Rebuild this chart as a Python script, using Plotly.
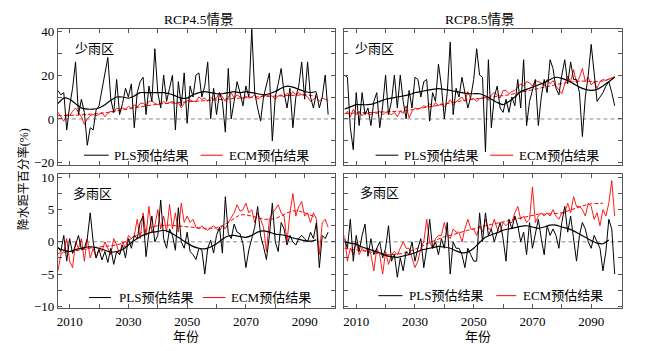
import plotly.graph_objects as go

# ---------------- data ----------------
YEARS = list(range(2006, 2099))

# RCP4.5 少雨区
TL_PLS = [13, 11, 12, -5, 6, 14, 26, 2, 9, 3,
          -12, -4, -5, 4, 6, 14, 20, 28, 9, 3,
          18, 2, 7, 14, 10, 16, -4, 12, 17, 19,
          2, 15, 8, 32, 12, 5, 20, 8, 14, 20,
          -5, 17, 6, 21, -2, 15, 10, 20, 21, 10,
          15, 26, 0, 14, 2, 12, 8, -6, 23, 0,
          8, 17, 12, 6, 15, 10, 41, 12, 5, -1,
          10, 15, 21, -10, 10, 16, 23, 12, 5, 14,
          -4, 10, 15, 26, 9, 26, 10, 5, 12, 5,
          10, 20, 2]
TL_ECM = [3, 1, -1, 2, 1.5, 3.5, 5, 3, 1, -2.5,
          0, 1.5, 2, 1.5, 2, 3, 1, 2.5, 3.5, 3,
          5, 4.4, 5, 4.5, 5.8, 4.8, 6.5, 5.5, 7, 7.3,
          6, 8, 8.3, 7, 6.5, 7.2, 8, 7, 7.5, 8,
          7, 7.5, 5, 7.3, 8.3, 8.7, 8, 8, 10, 9,
          9.5, 8, 9.8, 9, 9.5, 12, 10, 8, 10, 12,
          9.5, 11, 10, 9.3, 10.5, 9.5, 10, 11, 9, 10,
          11, 10.5, 11, 10.3, 9, 10.5, 11, 10, 11.7, 10.5,
          12.5, 11, 12, 11, 11, 10, 8, 9, 10, 8,
          9.5, 9, 8.5]
TL_SM_YEARS = list(range(2006, 2095, 2))
TL_PLS_SM = [7, 9.5, 9, 7, 5, 4.5, 4.5, 5, 6.5, 8.5,
             10, 10, 9.5, 10.5, 12, 12, 12, 12, 12, 11.5,
             10.5, 9.5, 9.5, 11, 12, 12.5, 12, 11.5, 11.5, 12,
             12.5, 12, 12.5, 12, 11.5, 11, 11.5, 12.5, 14, 15,
             14.5, 13.5, 12.5, 12, 12.5]
TL_ECM_SM = [1.5, 1.5, 1.5, 1.7, 1.9, 2.0, 2.2, 2.5, 2.8, 3.2,
             3.5, 4.0, 4.6, 5.0, 5.5, 6.0, 6.5, 6.8, 7.0, 7.2,
             7.4, 7.6, 7.8, 8.0, 8.2, 8.4, 8.7, 9.0, 9.2, 9.4,
             9.6, 9.7, 9.8, 10.0, 10.1, 10.2, 10.3, 10.4, 10.6, 10.8,
             11.0, 11.1, 11.0, 10.7, 10.3]

# RCP8.5 少雨区
TR_PLS = [20, 19, -4, -14, 12, -3, 12, 2, 5, -3,
          8, 12, -4, 6, 20, 2, 8, 20, 5, 20,
          8, 0, 13, 5, 19, 18, 10, 17, 18, -1,
          12, 8, 25, 15, 0, 12, 35, 2, 14, 10,
          19, 12, 5, 10, 18, 32, 20, 19, -15, 27,
          -4, 10, 15, 5, 3, 9, 3, 10, 6, 18,
          5, 27, -3, 8, 13, 18, -3, 10, 18, 12,
          27, 23, 14, 11, 20, 27, 16, 26, 18, 18,
          12, -8, 10, 20, 34, 20, 8, 10, 12, 15,
          17, 12, 6]
TR_ECM = [2, 3.5, 1, 4.4, 2, 3.5, 1.5, 3, 2.5, 2,
          3, 2.5, 3.5, 2, 3, 2.5, 2, 3, 1, 3.5,
          2.5, 6, 0.5, 3.5, 5, 4.5, 5, 6, 5.5, 7,
          5.5, 7.5, 6, 7, 5.5, 7, 8.8, 6.5, 8, 9,
          10, 8, 12.5, 9, 9.3, 8, 9.2, 9.5, 10, 8.5,
          11, 12, 11, 9.5, 13, 13, 11.5, 12.5, 13, 14.5,
          16, 15, 17, 16.5, 15, 17.5, 17, 16.5, 15, 18,
          16, 17.5, 15, 13, 11.5, 16, 19.5, 17, 22.5, 16.5,
          19, 23, 17, 19, 15.5, 17, 14, 17, 18, 17.5,
          18, 18.5, 19.3]
TR_SM_YEARS = list(range(2006, 2099, 2))
TR_PLS_SM = [4.5, 5.5, 6.5, 6.5, 6.5, 7, 8, 9, 9.5, 10,
             10.5, 11, 12, 12.5, 13, 13.5, 13.8, 13.5, 13, 12.5,
             12, 11.5, 11.5, 11.5, 10.5, 9, 7.5, 6.5, 8, 10,
             12.5, 13.5, 14.5, 15.5, 16.5, 18, 19, 18.5, 17.5, 16,
             14.5, 13.5, 13, 13.5, 15, 17, 19]
TR_ECM_SM = [2.5, 2.6, 2.7, 2.8, 2.9, 3, 3, 3, 3.1, 3.3,
             3.6, 4, 4.4, 4.8, 5.2, 5.6, 6.2, 6.8, 7.4, 7.9,
             8.3, 8.7, 9, 9.3, 9.5, 9.8, 10.2, 10.6, 11, 11.6,
             12.2, 12.8, 13.4, 14, 14.6, 15.2, 15.8, 16.2, 16.6, 17,
             17.3, 17.2, 17, 17, 17.3, 18, 19]

# RCP4.5 多雨区
BL_PLS = [-0.8, -1.5, 1, -3, 0.5, -1.8, -0.5, 1, -1.2, -1,
          0.5, 4.5, 0, -2.5, -1.2, -2.8, -1.5, -3.2, -1, -3.5,
          -1.5, -2, -0.5, -2.5, 0.5, -1, 1, 0.5, 3, 4,
          -2.3, 1.5, 4, 0, 1, 6.5, 0.5, -1, 2, 1,
          -1.3, 5.3, 0, -1, 1.5, -1.5, -2, -2.75, -1, -1.25,
          -5, -1, 0.25, -1.75, 1, 2.25, -1.75, 7, 1.25, 0.5,
          2.75, 1.5, 1.25, -0.25, -4, -1.25, 0.5, 2.25, 5.5, 1,
          -0.75, -2.75, 1, 6, 0, -1.5, 3, 2, -0.5, 1,
          0, -0.5, 0.5, 1, 0.5, 0, 1.5, 0.5, 3, -4,
          1, 0.5, 1.5]
BL_ECM = [-4.5, -2, -1.5, 0.5, -3, -4, 0, -1, 0.5, -3,
          0.5, -2.5, -1, -2.5, -1, -1.5, 0, -1, -2, 0.5,
          -0.5, -2, 0, -1, 1, 0.5, 1, 3.5, 0.5, 4.5,
          1, 5.5, 1.5, 2.5, 5, 2, 4, 1.5, 5.8, 2,
          4.5, 1.5, 6, 3, 4, 3, 3.5, 2.25, 2, 2.5,
          2, 1.8, 2.2, 2.5, 2, 1.7, 2.5, 2, 3, 3.75,
          4.5, 5.75, 4.75, 5, 6, 4.5, 5, 3, 4.5, 3.5,
          2.25, -1.5, 3.5, 4.5, 5, 5.75, 4.5, 4, 0, 4.5,
          7.5, 4, 5.5, 6.25, 4, 4.5, 3, 4.5, 3.5, -2,
          3, 3.5, 2.25]
BL_SM_YEARS = list(range(2006, 2095, 2))
BL_PLS_SM = [-1, -1.3, -1.5, -1.2, -1, -0.8, -0.8, -1, -1.3, -1.6,
             -1.5, -1.2, -0.5, 0.2, 0.8, 1.2, 1.5, 1.6, 1.8, 1.5,
             1.0, 0.4, -0.2, -0.7, -1.0, -1.1, -0.8, -0.3, 0.4, 0.9,
             1.0, 0.8, 0.7, 1.0, 1.5, 1.7, 1.5, 1.2, 1.1, 0.9,
             0.6, 0.4, 0.2, 0.1, 0.3]
BL_ECM_SM = [-1.8, -1.6, -1.5, -1.4, -1.2, -1.0, -0.9, -0.8, -0.7, -0.6,
             -0.5, -0.2, 0.2, 0.8, 1.3, 1.8, 2.3, 2.5, 2.6, 2.6,
             2.5, 2.4, 2.3, 2.2, 2.1, 2.1, 2.1, 2.2, 2.5, 3.0,
             3.6, 4.2, 4.2, 4.0, 3.8, 3.5, 3.5, 3.6, 4.0, 4.5,
             4.8, 4.8, 4.5, 4.2, 3.8]

# RCP8.5 多雨区
BR_PLS = [0.5, -1, 3.5, -3, 1, -1.5, 1, 2.75, -2.25, 0.5,
          -2, -1, 0, -2.5, -1, 2.5, -3, -2, -5.5, -2.5,
          -4.5, -1.5, -2, 0, -3, -1, 0.5, -4, -1, 3.5,
          -1, 0, -2, 0.5, -1, 3, -5, 0, -1, -1,
          -2, -4, -1, -2, -3, -3, 4.5, 0, 4.5, 1,
          2, 0, 1.5, 3, 0.5, -3, 3.5, 2, 4, 2.5,
          0, 1.5, -2, 3, -1, 1.5, 3.5, 0.5, -2, 2.5,
          1, 2, 1, -1, 3, 5.5, 1.5, 4, 0, -3,
          1, 3, 2, 0, -1, 1, 0, -1, -4.5, -1.5,
          3.5, 2, -5]
BR_ECM = [1, -3, -1, -2, 0, -2, -1, -1.5, -1, -2,
          -4.5, -1, -2, -5, -1.5, -3.5, -2, -1.5, -2, -1,
          0, -1, -1, -2.5, -4, -3, -1, 0, 3.5, 0,
          -1, 0.5, 1, 1, 3, 1, 0.5, 2, 1.5, 1.5,
          0, 2, 3.5, 2, 2, 1, 2.5, 1.5, 3.5, 2,
          2, 3.5, 2, 1.5, 3, 2.5, 3, 3, 4.5, 5.5,
          3.5, 4, 3, 3.5, 8.5, 3, 4, 4.5, 4, 4.5,
          4, 5, 4, 3.5, 4.5, 4.5, 6, 4.5, 7, 5.5,
          5.5, 5, 4, 6, 5.5, 3.5, 4.5, 2.5, 5, 4,
          6, 9.5, 4]
BR_PLS_SM_YEARS = list(range(2006, 2097, 2))
BR_PLS_SM = [0, -0.2, -0.4, -0.8, -1.1, -1.4, -1.7, -2.1, -2.3, -2.4,
             -2.2, -2.0, -1.7, -1.3, -1.1, -0.9, -0.7, -0.8, -1.0, -1.4,
             -1.7, -1.6, -1.0, -0.1, 0.7, 1.1, 1.4, 1.8, 2.0, 2.2,
             2.4, 2.5, 2.3, 2.1, 2.3, 2.6, 2.6, 2.3, 2.1, 1.7,
             1.2, 0.7, 0.2, -0.2, -0.3, 0.3]
BR_ECM_SM_YEARS = list(range(2006, 2095, 2))
BR_ECM_SM = [-1, -1.1, -1.2, -1.3, -1.5, -1.7, -1.9, -2.0, -2.0, -1.9,
             -1.8, -1.5, -1.2, -0.8, -0.3, 0.1, 0.5, 0.8, 1.0, 1.3,
             1.5, 1.8, 2.0, 2.3, 2.5, 2.7, 2.9, 3.1, 3.3, 3.6,
             3.8, 4.0, 4.2, 4.3, 4.3, 4.3, 4.4, 4.5, 4.8, 5.1,
             5.5, 5.7, 5.9, 6.0, 6.0]

TITLES = ["RCP4.5情景", "RCP8.5情景"]
REGIONS = ["少雨区", "多雨区"]
LEGEND_NAMES = ["PLS预估结果", "ECM预估结果"]
X_TICKS = list(range(2010, 2100, 10))
Y_TICKS_TOP = list(range(-20, 41, 10))
Y_TICKS_BOT = [-10, -7.5, -5, -2.5, 0, 2.5, 5, 7.5, 10]

# ---------------- figure ----------------
W, H = 647, 351
FONT = "'Liberation Serif', 'Times New Roman', 'Noto Sans CJK SC', serif"
AX = "#555555"
RED = "#ff0000"

fig = go.Figure()

panels = [
    ("", TL_PLS, TL_ECM, TL_SM_YEARS, TL_PLS_SM, TL_SM_YEARS, TL_ECM_SM),
    ("2", TR_PLS, TR_ECM, TR_SM_YEARS, TR_PLS_SM, TR_SM_YEARS, TR_ECM_SM),
    ("3", BL_PLS, BL_ECM, BL_SM_YEARS, BL_PLS_SM, BL_SM_YEARS, BL_ECM_SM),
    ("4", BR_PLS, BR_ECM, BR_PLS_SM_YEARS, BR_PLS_SM, BR_ECM_SM_YEARS, BR_ECM_SM),
]

for sfx, pls, ecm, spx, spy, sex, sey in panels:
    xa, ya = "x" + sfx, "y" + sfx
    fig.add_trace(go.Scatter(x=YEARS, y=ecm, mode="lines", xaxis=xa, yaxis=ya,
                             line=dict(color=RED, width=0.9), showlegend=False))
    fig.add_trace(go.Scatter(x=sex, y=sey, mode="lines", xaxis=xa, yaxis=ya,
                             line=dict(color=RED, width=1, dash="4px,2px"), showlegend=False))
    fig.add_trace(go.Scatter(x=YEARS, y=pls, mode="lines", xaxis=xa, yaxis=ya,
                             line=dict(color="black", width=1), showlegend=False))
    fig.add_trace(go.Scatter(x=spx, y=spy, mode="lines", xaxis=xa, yaxis=ya,
                             line=dict(color="black", width=1.2, shape="spline", smoothing=0.6),
                             showlegend=False))

XD_L = [57 / W, 335 / W]
XD_R = [344 / W, 622 / W]
YD_T = [(H - 165) / H, (H - 25) / H]
YD_B = [(H - 313) / H, (H - 174) / H]

tickfont = dict(family=FONT, size=13, color="black")


def xaxis(dom, anchor, labels):
    return dict(domain=dom, anchor=anchor, range=[2006, 2100.5], tickmode="array",
                tickvals=X_TICKS,
                ticktext=[str(v) if (labels and v % 20 == 10) else "" for v in X_TICKS],
                ticks="inside", ticklen=4, tickwidth=1, tickcolor=AX,
                showline=True, linecolor=AX, linewidth=1, mirror="ticks",
                showgrid=False, zeroline=False, tickfont=tickfont, ticklabelstandoff=1)


def fmt(v):
    s = ("%g" % abs(v))
    return ("\u2212" + s) if v < 0 else s


def yaxis(dom, anchor, rng, vals, labvals, labels):
    return dict(domain=dom, anchor=anchor, range=rng, tickmode="array",
                tickvals=vals,
                ticktext=[fmt(v) if (labels and v in labvals) else "" for v in vals],
                ticks="inside", ticklen=4, tickwidth=1, tickcolor=AX,
                showline=True, linecolor=AX, linewidth=1, mirror="ticks",
                showgrid=False, zeroline=False, tickfont=tickfont)


fig.update_layout(
    width=W, height=H, margin=dict(l=0, r=0, t=0, b=0),
    paper_bgcolor="white", plot_bgcolor="white", showlegend=False,
    xaxis=xaxis(XD_L, "y", False),
    xaxis2=xaxis(XD_R, "y2", False),
    xaxis3=xaxis(XD_L, "y3", True),
    xaxis4=xaxis(XD_R, "y4", True),
    yaxis=yaxis(YD_T, "x", [-20.9, 40.9], Y_TICKS_TOP, [-20, 0, 20, 40], True),
    yaxis2=yaxis(YD_T, "x2", [-20.9, 40.9], Y_TICKS_TOP, [-20, 0, 20, 40], False),
    yaxis3=yaxis(YD_B, "x3", [-10.3, 10.6], Y_TICKS_BOT, [-10, -5, 0, 5, 10], True),
    yaxis4=yaxis(YD_B, "x4", [-10.3, 10.6], Y_TICKS_BOT, [-10, -5, 0, 5, 10], False),
)

shapes = []
annotations = []

for sfx in ["", "2", "3", "4"]:
    shapes.append(dict(type="line", xref="x%s domain" % sfx, yref="y" + sfx,
                       x0=0, x1=1, y0=0, y1=0,
                       line=dict(color="#888888", width=1, dash="4px,3px"), layer="below"))

legends = [
    ("", 0.071, 0.094, 0.183, 0.196, 0.514, 0.594, 0.610),
    ("2", 0.071, 0.112, 0.194, 0.207, 0.525, 0.608, 0.620),
    ("3", 0.079, 0.112, 0.191, 0.212, 0.522, 0.604, 0.618),
    ("4", 0.093, 0.122, 0.209, 0.226, 0.547, 0.619, 0.636),
]
for sfx, yy, b0, b1, bt, r0, r1, rt in legends:
    xr, yr = "x%s domain" % sfx, "y%s domain" % sfx
    shapes.append(dict(type="line", xref=xr, yref=yr, x0=b0, x1=b1, y0=yy, y1=yy,
                       line=dict(color="black", width=1)))
    shapes.append(dict(type="line", xref=xr, yref=yr, x0=r0, x1=r1, y0=yy, y1=yy,
                       line=dict(color=RED, width=1)))
    annotations.append(dict(xref=xr, yref=yr, x=bt, y=yy, text=LEGEND_NAMES[0],
                            showarrow=False, xanchor="left", yanchor="middle",
                            font=dict(family=FONT, size=13, color="black")))
    annotations.append(dict(xref=xr, yref=yr, x=rt, y=yy, text=LEGEND_NAMES[1],
                            showarrow=False, xanchor="left", yanchor="middle",
                            font=dict(family=FONT, size=13, color="black")))

for sfx, xx, yy, txt in [("", 0.054, 0.857, REGIONS[0]), ("2", 0.032, 0.857, REGIONS[0]),
                         ("3", 0.047, 0.849, REGIONS[1]), ("4", 0.047, 0.856, REGIONS[1])]:
    annotations.append(dict(xref="x%s domain" % sfx, yref="y%s domain" % sfx, x=xx, y=yy,
                            text=txt, showarrow=False, xanchor="left", yanchor="middle",
                            font=dict(family=FONT, size=13, color="black")))

for xx, txt in [(198, TITLES[0]), (479, TITLES[1])]:
    annotations.append(dict(xref="paper", yref="paper", x=xx / W, y=1 - 15 / H, text=txt,
                            showarrow=False, xanchor="center", yanchor="middle",
                            font=dict(family=FONT, size=13.5, color="black")))

for xx in [185, 478]:
    annotations.append(dict(xref="paper", yref="paper", x=xx / W, y=0, text="年份",
                            showarrow=False, xanchor="center", yanchor="bottom",
                            borderpad=0, font=dict(family=FONT, size=13, color="black")))

annotations.append(dict(xref="paper", yref="paper", x=22 / W, y=1 - 180 / H,
                        text="降水距平百分率(%)", textangle=-90, showarrow=False,
                        xanchor="center", yanchor="middle",
                        font=dict(family=FONT, size=12, color="black")))

fig.update_layout(shapes=shapes, annotations=annotations)

fig.write_html("out.html")
